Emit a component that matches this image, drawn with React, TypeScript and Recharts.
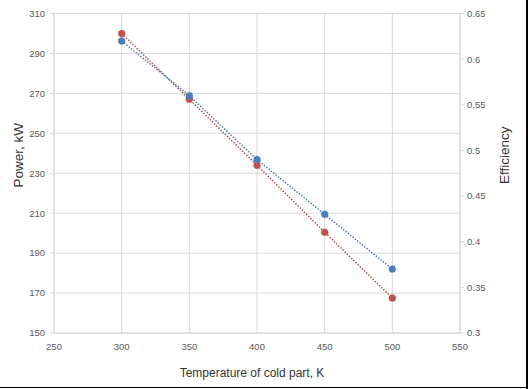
import React from "react";
import {
  ComposedChart,
  Line,
  XAxis,
  YAxis,
  CartesianGrid,
  Label,
} from "recharts";

const temperatures = [300, 350, 400, 450, 500];
const powerKW = [300, 267, 234, 200.5, 167.5];
const efficiency = [0.62, 0.56, 0.49, 0.43, 0.37];

const xTicks = [250, 300, 350, 400, 450, 500, 550];
const powerTicks = [150, 170, 190, 210, 230, 250, 270, 290, 310];
const effTicks = [0.3, 0.35, 0.4, 0.45, 0.5, 0.55, 0.6, 0.65];

const data = temperatures.map((t, i) => ({
  t,
  power: powerKW[i],
  eff: efficiency[i],
}));

const FONT = "'Liberation Sans', Arial, sans-serif";
const GRID = "#d9d9d9";
const TICK = "#595959";
const TITLE = "#333333";
const RED = "#C0504D";
const BLUE = "#4A7EBB";

const tickStyle = { fontSize: 9.5, fill: TICK, fontFamily: FONT };

export default function App() {
  return (
    <div
      style={{
        position: "absolute",
        left: 0,
        top: 0,
        width: 528,
        height: 389,
        background: "#fff",
      }}
    >
      <ComposedChart
        width={528}
        height={389}
        data={data}
        margin={{ top: 13.5, right: 0, bottom: 0, left: 0 }}
      >
        <CartesianGrid
          stroke={GRID}
          strokeWidth={1}
          yAxisId="left"
          verticalPoints={undefined}
        />
        <XAxis
          dataKey="t"
          type="number"
          domain={[250, 550]}
          ticks={xTicks}
          height={56}
          stroke={GRID}
          tickLine={false}
          tickSize={4}
          tickMargin={6}
          tick={tickStyle}
          interval={0}
        >
          <Label
            value="Temperature of cold part, K"
            position="insideBottom"
            offset={12}
            dx={-5}
            style={{ fontSize: 12, fill: TITLE, fontFamily: FONT }}
          />
        </XAxis>
        <YAxis
          yAxisId="left"
          orientation="left"
          domain={[150, 310]}
          ticks={powerTicks}
          width={54}
          stroke={GRID}
          tickSize={4}
          tickMargin={5}
          tick={tickStyle}
          interval={0}
        >
          <Label
            value="Power, kW"
            position="center"
            angle={-90}
            dx={-9}
            dy={-18}
            style={{ fontSize: 13.5, fill: TITLE, fontFamily: FONT, textAnchor: "middle" }}
          />
        </YAxis>
        <YAxis
          yAxisId="right"
          orientation="right"
          domain={[0.3, 0.65]}
          ticks={effTicks}
          width={68}
          stroke={GRID}
          tickSize={4}
          tickMargin={3}
          tick={tickStyle}
          interval={0}
          tickFormatter={(v: number) => String(Number(v.toFixed(2)))}
        >
          <Label
            value="Efficiency"
            position="center"
            angle={-90}
            dx={10}
            dy={-18}
            style={{ fontSize: 13.5, fill: TITLE, fontFamily: FONT, textAnchor: "middle" }}
          />
        </YAxis>
        <Line
          yAxisId="left"
          type="linear"
          dataKey="power"
          stroke={RED}
          strokeWidth={1.5}
          strokeDasharray="1.5 1.5"
          dot={{ r: 3.5, fill: RED, stroke: RED, strokeWidth: 0.5 }}
          isAnimationActive={false}
        />
        <Line
          yAxisId="right"
          type="linear"
          dataKey="eff"
          stroke={BLUE}
          strokeWidth={1.5}
          strokeDasharray="1.5 1.5"
          dot={{ r: 3.5, fill: BLUE, stroke: BLUE, strokeWidth: 0.5 }}
          isAnimationActive={false}
        />
      </ComposedChart>
      <div
        style={{
          position: "absolute",
          right: 0,
          top: 0,
          width: 2,
          height: 389,
          background: "#000",
        }}
      />
      <div
        style={{
          position: "absolute",
          left: 0,
          bottom: 1,
          width: 528,
          height: 1.5,
          background: "#000",
        }}
      />
    </div>
  );
}
